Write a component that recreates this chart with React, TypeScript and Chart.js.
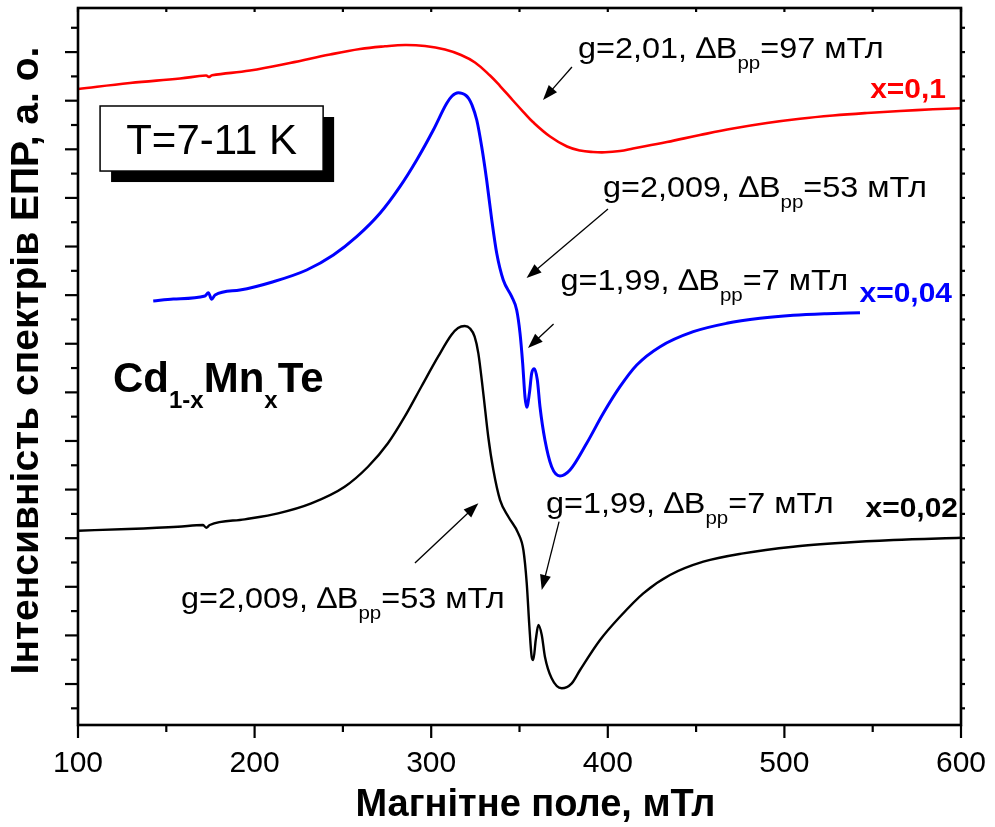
import { useEffect, useRef } from "react";
import { Chart, registerables } from "chart.js";

Chart.register(...registerables);

const FONT = '"Liberation Sans", Arial, Helvetica, sans-serif';

// EPR spectra of Cd(1-x)Mn(x)Te: magnetic field (mT) vs. signal (a.u.)
// x = 0.1
const fieldX01 = [
  100, 129.4, 157.8, 172.5, 174.2, 175.9, 197.4, 220.0, 242.7, 259.7, 273.8, 285.2, 296.5,
  307.8, 316.9, 324.8, 333.3, 339.0, 346.3, 352.0, 357.6, 367.3, 376.9, 384.3, 391.6, 398.4,
  406.9, 414.3, 433.5, 452.2, 470.9, 490.1, 508.8, 527.5, 546.8, 565.5, 584.1, 600,
];
const signalX01 = [
  122.4, 123.64, 124.56, 125.18, 124.87, 125.24, 126.21, 127.75, 129.5, 130.63, 131.19, 131.46,
  131.25, 130.53, 129.4, 127.86, 125.18, 123.02, 120.04, 117.77, 115.61, 112.63, 110.57, 109.75,
  109.44, 109.38, 109.65, 110.16, 111.5, 112.94, 114.28, 115.41, 116.29, 116.95, 117.47, 117.88,
  118.23, 118.45,
];

// x = 0.04
const fieldX004 = [
  142.6, 154.0, 171.9, 173.8, 175.7, 177.6, 191.7, 210.6, 229.5, 244.6, 257.8, 271.0, 282.3,
  291.8, 301.2, 308.8, 311.8, 315.3, 317.44, 319.71, 321.41, 323.1, 325.8, 328.6, 331.4, 334.3,
  337.1, 340.8, 345.6, 348.4, 350.3, 351.8, 353.1, 354.1, 355.6, 356.9, 358.4, 360.1, 361.6,
  364.4, 368.2, 372.9, 378.6, 388.05, 397.45, 406.9, 416.4, 429.6, 448.4, 467.3, 486.2, 505.0,
  523.9, 542.8,
];
const signalX004 = [
  78.79, 79.2, 79.82, 80.5, 79.14, 80.03, 81.05, 82.76, 85.17, 88.25, 92.02, 96.83, 102.31,
  107.8, 113.97, 119.46, 120.96, 121.64, 121.52, 121.07, 120.35, 119.11, 116.03, 110.53, 103.68,
  95.45, 88.6, 83.11, 79.68, 76.94, 72.15, 65.97, 59.1, 56.92, 59.8, 63.92, 64.86, 62.54, 57.05,
  50.2, 44.7, 42.79, 44.02, 49.52, 55.69, 61.16, 65.62, 69.39, 72.48, 74.2, 75.23, 75.85, 76.18,
  76.38,
];

// x = 0.02
const fieldX002 = [
  100, 128.3, 156.6, 170.8, 172.6, 174.6, 194.4, 213.3, 232.1, 251.0, 264.2, 275.5, 285.0,
  294.4, 303.9, 311.4, 315.2, 319.0, 322.0, 324.6, 326.7, 329.5, 332.3, 335.2, 339.0, 343.7,
  349.3, 352.2, 354.1, 355.6, 356.9, 357.8, 359.2, 360.7, 362.6, 364.4, 368.2, 373.9, 379.6,
  384.3, 395.6, 406.9, 420.1, 435.2, 454.1, 476.7, 505.0, 533.4, 561.7, 600,
];
const signalX002 = [
  31.54, 31.89, 32.36, 32.71, 32.15, 32.71, 33.88, 35.12, 37.17, 40.59, 44.7, 49.52, 54.99,
  61.16, 67.33, 71.8, 73.24, 73.65, 73.13, 71.45, 68.03, 59.8, 50.87, 44.02, 37.85, 34.42, 31.0,
  27.57, 20.72, 11.79, 5.62, 4.94, 9.05, 12.14, 10.08, 5.62, 1.17, -0.88, 0.14, 2.88, 9.05,
  13.84, 18.66, 22.42, 25.16, 26.89, 28.25, 29.07, 29.62, 30.1,
];

const fieldTickLabels = [100, 200, 300, 400, 500, 600];
const fieldMin = 100;
const fieldMax = 600;
const signalMin = -8.43;
const signalMax = 139.07;

const xTitle = "Магнітне поле, мТл";
const yTitle = "Інтенсивність спектрів ЕПР, а. о.";

type Piece = { text: string; sub?: boolean };
type Note = {
  pieces: Piece[];
  field: number;
  level: number;
  size: number;
  subSize: number;
  subShift: number;
  stretch: number;
  bold?: boolean;
  color?: string;
  align?: "left" | "right";
};

const linewidth = (g: string, dB: string): Piece[] => [
  { text: `g=${g}, ∆B` },
  { text: "pp", sub: true },
  { text: `=${dB} мТл` },
];

const gStyle = { size: 30, subSize: 19, subShift: 11, stretch: 1.08 };
const xStyle = { size: 28, subSize: 18, subShift: 0, stretch: 1.07, bold: true, align: "right" as const };

const notes: Note[] = [
  { pieces: linewidth("2,01", "97"), field: 383.1, level: 128.78, ...gStyle },
  { pieces: linewidth("2,009", "53"), field: 397.3, level: 100.19, ...gStyle },
  { pieces: linewidth("1,99", "7"), field: 373.2, level: 81.05, ...gStyle },
  { pieces: linewidth("1,99", "7"), field: 365.0, level: 35.18, ...gStyle },
  { pieces: linewidth("2,009", "53"), field: 158.3, level: 15.63, ...gStyle },
  { pieces: [{ text: "x=0,1" }], field: 591.5, level: 120.55, color: "#ff0000", ...xStyle },
  { pieces: [{ text: "x=0,04" }], field: 594.9, level: 78.59, color: "#0000ff", ...xStyle },
  { pieces: [{ text: "x=0,02" }], field: 598.3, level: 34.36, color: "#000000", ...xStyle },
  {
    pieces: [{ text: "Cd" }, { text: "1-x", sub: true }, { text: "Mn" }, { text: "x", sub: true }, { text: "Te" }],
    field: 119.8, level: 60.13, size: 42, subSize: 24, subShift: 16, stretch: 1, bold: true,
  },
];

// arrows: [fromField, fromLevel, toField, toLevel]
const arrows: number[][] = [
  [379.7, 126.93, 363.3, 120.14],
  [400.1, 97.72, 354.0, 83.52],
  [369.3, 74.06, 354.8, 69.12],
  [372.4, 33.39, 362.6, 19.34],
  [290.8, 24.89, 326.7, 37.17],
];

// temperature box: [leftField, topLevel, rightField, bottomLevel]
const tempBox = [112.5, 118.91, 238.8, 105.53];
const tempLabel = "T=7-11 K";
const tempLabelLevel = 109.03;

function drawPieces(ctx: CanvasRenderingContext2D, n: Note, x: number, y: number) {
  const w = n.bold ? "bold " : "";
  const main = `${w}${n.size}px ${FONT}`;
  const sub = `${w}${n.subSize}px ${FONT}`;
  let total = 0;
  for (const p of n.pieces) {
    ctx.font = p.sub ? sub : main;
    total += ctx.measureText(p.text).width;
  }
  ctx.save();
  ctx.translate(x, y);
  ctx.scale(n.stretch, 1);
  let cx = n.align === "right" ? -total : 0;
  ctx.textAlign = "left";
  ctx.textBaseline = "alphabetic";
  ctx.fillStyle = n.color || "#000";
  for (const p of n.pieces) {
    ctx.font = p.sub ? sub : main;
    ctx.fillText(p.text, cx, p.sub ? n.subShift : 0);
    cx += ctx.measureText(p.text).width;
  }
  ctx.restore();
}

function drawArrow(ctx: CanvasRenderingContext2D, x0: number, y0: number, x1: number, y1: number) {
  const a = Math.atan2(y1 - y0, x1 - x0);
  const c = Math.cos(a);
  const s = Math.sin(a);
  const len = 15;
  const half = 5.5;
  ctx.beginPath();
  ctx.moveTo(x0, y0);
  ctx.lineTo(x1 - c * len * 0.7, y1 - s * len * 0.7);
  ctx.stroke();
  ctx.beginPath();
  ctx.moveTo(x1, y1);
  ctx.lineTo(x1 - c * len - s * half, y1 - s * len + c * half);
  ctx.lineTo(x1 - c * len + s * half, y1 - s * len - c * half);
  ctx.closePath();
  ctx.fill();
}

const framePlugin = {
  id: "frameAndNotes",
  afterDatasetsDraw(chart: any) {
    const { ctx, chartArea: a, scales } = chart;
    const xs = scales.x;
    const ys = scales.y;
    const seg = (x0: number, y0: number, x1: number, y1: number) => {
      ctx.beginPath();
      ctx.moveTo(x0, y0);
      ctx.lineTo(x1, y1);
      ctx.stroke();
    };
    ctx.save();
    ctx.strokeStyle = "#000";
    ctx.fillStyle = "#000";
    ctx.lineCap = "butt";

    // tick marks
    ctx.lineWidth = 2.2;
    for (let f = fieldMin; f <= fieldMax; f += 50) {
      const px = xs.getPixelForValue(f);
      const major = f % 100 === 0;
      seg(px, a.bottom, px, a.bottom + (major ? 13 : 7));
      seg(px, a.top, px, a.top + 4);
    }
    for (let v = -5; v <= 135; v += 5) {
      const py = ys.getPixelForValue(v);
      const major = v % 10 === 0;
      seg(a.left - (major ? 13 : 7), py, a.left, py);
      seg(a.right, py, a.right + 4, py);
    }
    // frame
    ctx.lineWidth = 2.6;
    ctx.strokeRect(a.left, a.top, a.right - a.left, a.bottom - a.top);

    // axis titles
    ctx.fillStyle = "#000";
    ctx.textAlign = "center";
    ctx.textBaseline = "middle";
    ctx.font = `bold 38px ${FONT}`;
    ctx.fillText(xTitle, (a.left + a.right) / 2 + 16, a.bottom + 81);
    ctx.save();
    ctx.translate(27, (a.top + a.bottom) / 2 - 6);
    ctx.rotate(-Math.PI / 2);
    ctx.font = `bold 39px ${FONT}`;
    ctx.fillText(yTitle, 0, 0);
    ctx.restore();

    // temperature box with drop shadow
    const bx0 = xs.getPixelForValue(tempBox[0]);
    const by0 = ys.getPixelForValue(tempBox[1]);
    const bx1 = xs.getPixelForValue(tempBox[2]);
    const by1 = ys.getPixelForValue(tempBox[3]);
    ctx.fillStyle = "#000";
    ctx.fillRect(bx0 + 11, by0 + 11, bx1 - bx0, by1 - by0);
    ctx.fillStyle = "#fff";
    ctx.fillRect(bx0, by0, bx1 - bx0, by1 - by0);
    ctx.lineWidth = 1.5;
    ctx.strokeRect(bx0, by0, bx1 - bx0, by1 - by0);
    ctx.fillStyle = "#000";
    ctx.font = `42px ${FONT}`;
    ctx.textAlign = "center";
    ctx.textBaseline = "alphabetic";
    ctx.fillText(tempLabel, (bx0 + bx1) / 2, ys.getPixelForValue(tempLabelLevel));

    // arrows
    ctx.lineWidth = 1.3;
    for (const [f0, l0, f1, l1] of arrows) {
      drawArrow(ctx, xs.getPixelForValue(f0), ys.getPixelForValue(l0), xs.getPixelForValue(f1), ys.getPixelForValue(l1));
    }
    // labels
    for (const n of notes) {
      drawPieces(ctx, n, xs.getPixelForValue(n.field), ys.getPixelForValue(n.level));
    }
    ctx.restore();
  },
};

const toPoints = (xs: number[], ys: number[]) => xs.map((x, i) => ({ x, y: ys[i] }));

export default function App() {
  const canvasRef = useRef<HTMLCanvasElement | null>(null);

  useEffect(() => {
    const canvas = canvasRef.current;
    if (!canvas) return;
    const series = (data: { x: number; y: number }[], color: string, width: number, smooth: boolean) => ({
      data,
      borderColor: color,
      backgroundColor: color,
      borderWidth: width,
      pointRadius: 0,
      fill: false,
      tension: smooth ? 0.4 : 0,
      cubicInterpolationMode: smooth ? ("default" as const) : ("monotone" as const),
    });
    const chart = new Chart(canvas, {
      type: "line",
      data: {
        datasets: [
          series(toPoints(fieldX002, signalX002), "#000000", 2.4, false),
          series(toPoints(fieldX004, signalX004), "#0000ff", 3, false),
          series(toPoints(fieldX01, signalX01), "#ff0000", 2.6, true),
        ],
      },
      options: {
        responsive: false,
        animation: false,
        events: [],
        layout: { padding: { left: 0, top: 8, right: 34, bottom: 0 } },
        plugins: { legend: { display: false }, tooltip: { enabled: false } },
        scales: {
          x: {
            type: "linear",
            min: fieldMin,
            max: fieldMax,
            afterBuildTicks: (scale: any) => {
              scale.ticks = fieldTickLabels.map((value) => ({ value }));
            },
            afterFit: (scale: any) => {
              scale.height = 102;
              scale.paddingLeft = 0;
              scale.paddingRight = 0;
            },
            grid: { display: false, drawTicks: false, tickLength: 0 },
            border: { display: false },
            ticks: {
              color: "#000",
              padding: 21,
              maxRotation: 0,
              font: { family: FONT, size: 30 },
            },
            title: { display: false },
          },
          y: {
            type: "linear",
            min: signalMin,
            max: signalMax,
            afterFit: (scale: any) => {
              scale.width = 78;
              scale.paddingTop = 0;
              scale.paddingBottom = 0;
            },
            grid: { display: false, drawTicks: false, tickLength: 0 },
            border: { display: false },
            ticks: { display: false },
            title: { display: false },
          },
        },
      },
      plugins: [framePlugin],
    });
    return () => chart.destroy();
  }, []);

  return (
    <canvas
      ref={canvasRef}
      width={995}
      height={827}
      style={{ position: "fixed", left: 0, top: 0, display: "block" }}
    />
  );
}
